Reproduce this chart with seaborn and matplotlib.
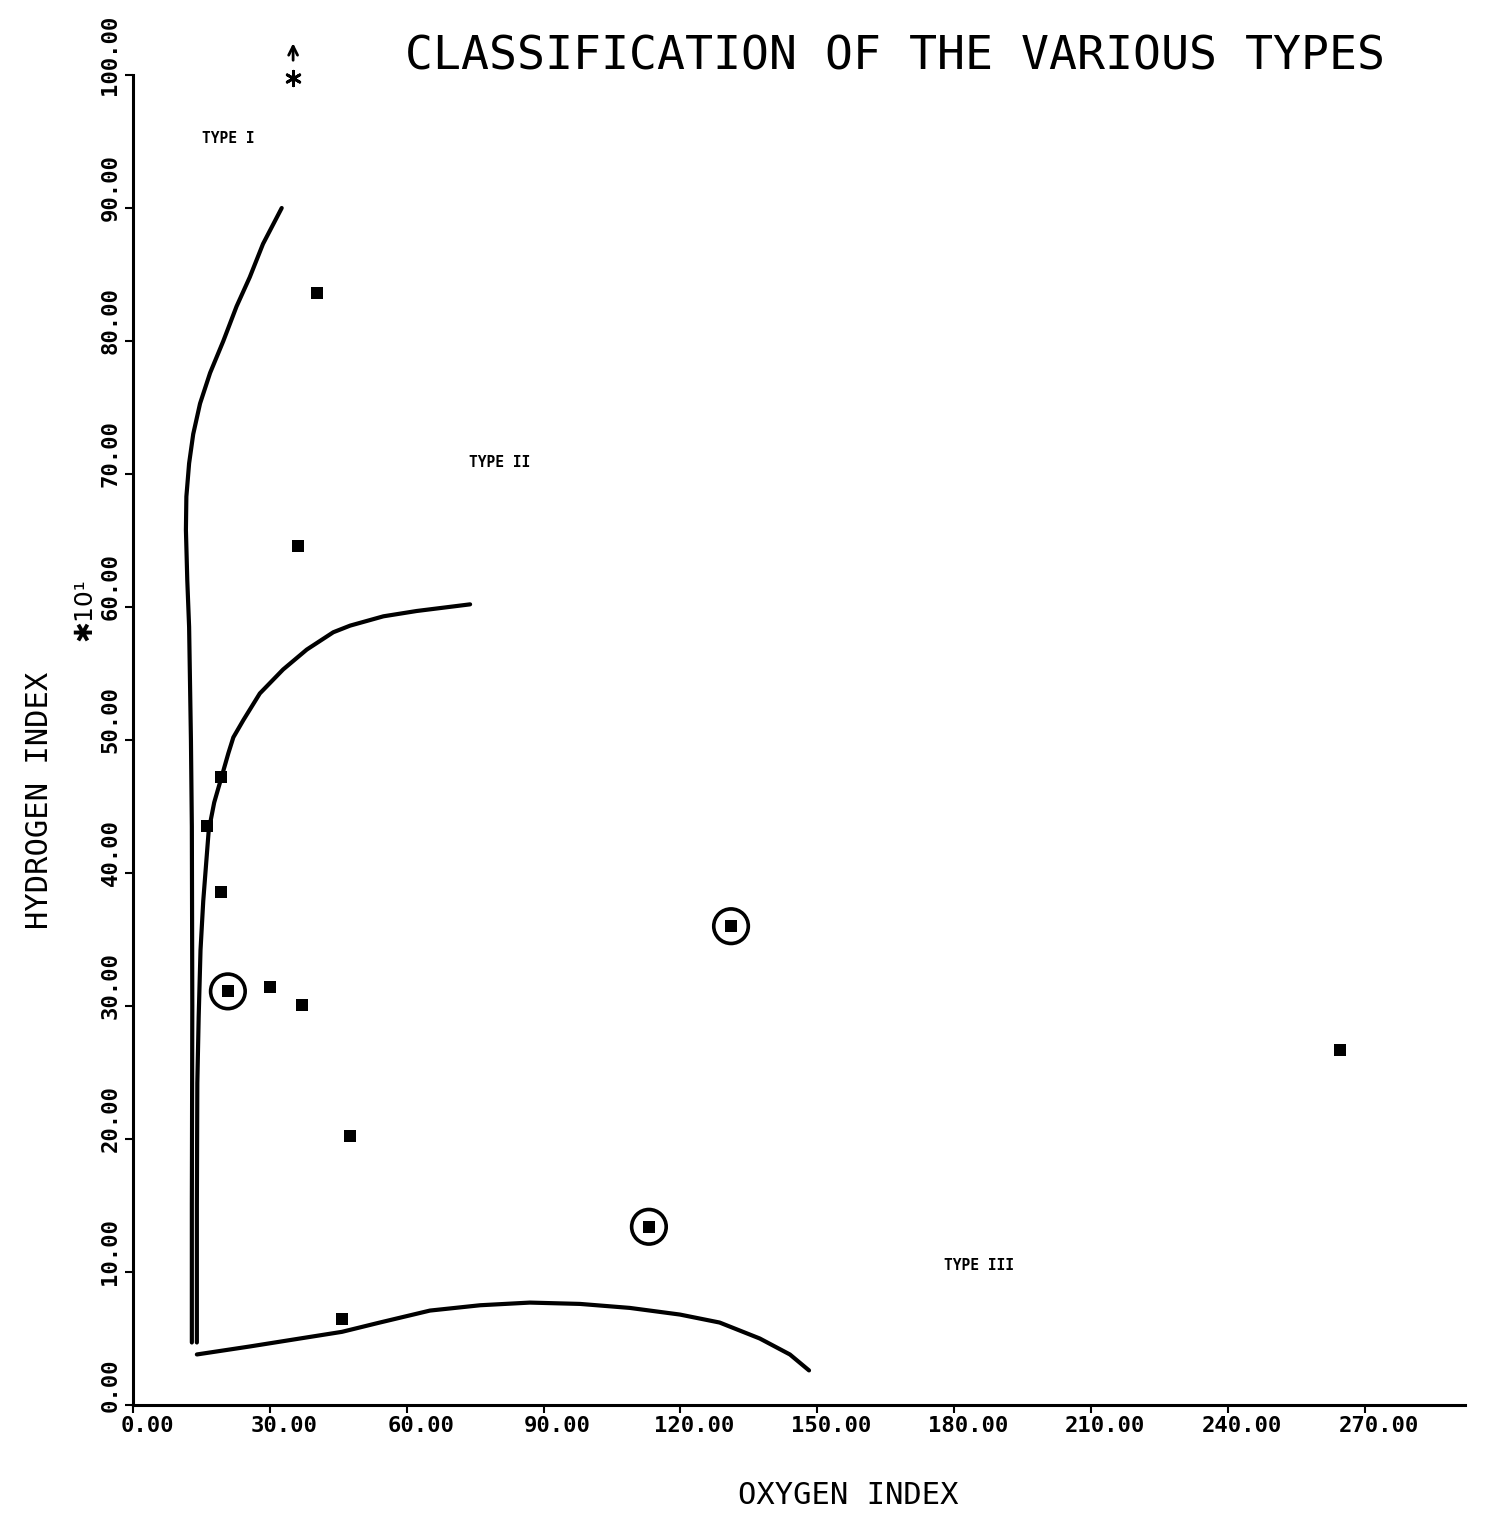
import matplotlib
matplotlib.use("Agg")
import matplotlib.pyplot as plt
import matplotlib.transforms as mtransforms
import seaborn as sns
import pandas as pd

# ---------------- data ----------------
# boundary curve of Type I (left, tall)
type1_oi = [12.9, 12.9, 13.0, 12.9, 12.7, 12.3, 11.9, 11.6, 11.7, 12.3, 13.2,
            14.7, 16.9, 19.8, 22.7, 25.6, 28.5, 32.6]
type1_hi = [4.7, 15.0, 30.0, 43.5, 50.0, 58.5, 62.0, 65.8, 68.3, 70.8, 73.0,
            75.3, 77.6, 80.0, 82.6, 84.8, 87.3, 90.0]

# boundary curve of Type II
type2_oi = [14.0, 14.0, 14.1, 14.4, 14.8, 15.4, 16.1, 16.6, 17.8, 19.4, 20.9,
            22.0, 24.2, 27.8, 32.9, 38.1, 43.9, 47.6, 54.9, 62.2, 73.9]
type2_hi = [4.7, 15.0, 24.2, 29.2, 34.2, 37.9, 41.0, 43.2, 45.3, 47.2, 49.0,
            50.2, 51.5, 53.5, 55.3, 56.8, 58.1, 58.6, 59.3, 59.7, 60.2]

# boundary curve of Type III (bottom)
type3_oi = [14.0, 25.6, 36.6, 45.8, 54.1, 65.1, 76.1, 87.0, 98.0, 108.9,
            119.9, 128.6, 137.4, 144.0, 148.2]
type3_hi = [3.8, 4.4, 5.0, 5.5, 6.2, 7.1, 7.5, 7.7, 7.6, 7.3,
            6.8, 6.2, 5.0, 3.8, 2.6]

# samples
sample_oi = [40.3, 36.2, 19.3, 16.2, 19.3, 20.8, 30.0, 37.0, 47.6, 45.8, 113.1, 131.1, 264.5]
sample_hi = [83.6, 64.6, 47.2, 43.5, 38.6, 31.1, 31.4, 30.1, 20.2, 6.5, 13.4, 36.0, 26.7]
sample_circled = [False, False, False, False, False, True, False, False, False, False, True, True, False]

# off-scale sample (shown at top with arrow)
offscale_oi = [35.1]
offscale_hi = [99.8]

x_ticks = [0, 30, 60, 90, 120, 150, 180, 210, 240, 270]
y_ticks = [0, 10, 20, 30, 40, 50, 60, 70, 80, 90, 100]

type_labels = ["TYPE I", "TYPE II", "TYPE III"]
type_label_oi = [20.8, 80.4, 185.4]
type_label_hi = [95.2, 70.9, 10.5]

# ---------------- style ----------------
sns.set_style("white")
plt.rcParams["font.family"] = ["DejaVu Sans Mono", "DejaVu Sans"]
plt.rcParams["text.color"] = "black"

fig = plt.figure(figsize=(14.89, 15.20), dpi=100)
ax = fig.add_axes([133 / 1489, 1 - 1405 / 1520, (1465 - 133) / 1489, (1405 - 75) / 1520])

lw_curve = 3.0
for xs, ys in [(type1_oi, type1_hi), (type2_oi, type2_hi), (type3_oi, type3_hi)]:
    d = pd.DataFrame({"oi": xs, "hi": ys})
    sns.lineplot(data=d, x="oi", y="hi", sort=False, color="black",
                 linewidth=lw_curve, ax=ax, legend=False, estimator=None)
for line in ax.get_lines():
    line.set_solid_joinstyle("round")
    line.set_solid_capstyle("round")

pts = pd.DataFrame({"oi": sample_oi, "hi": sample_hi, "circ": sample_circled})
sns.scatterplot(data=pts, x="oi", y="hi", marker="s", s=75, color="black",
                linewidth=0, ax=ax, legend=False, zorder=5)
sns.scatterplot(data=pts[pts["circ"]], x="oi", y="hi", marker="o", s=620,
                facecolor="none", edgecolor="black", linewidth=2.6, ax=ax,
                legend=False, zorder=5)

off = pd.DataFrame({"oi": offscale_oi, "hi": offscale_hi})
sns.scatterplot(data=off, x="oi", y="hi", marker=(6, 2, 0), s=110, color="black",
                edgecolor="black", linewidth=2.0, ax=ax, legend=False, zorder=6,
                clip_on=False)
ax.annotate("", xy=(offscale_oi[0], 102.6), xytext=(offscale_oi[0], 100.9),
            arrowprops=dict(arrowstyle="->", color="black", lw=2.0,
                            mutation_scale=16),
            annotation_clip=False)

for t, x, y in zip(type_labels, type_label_oi, type_label_hi):
    ax.text(x, y, t, fontsize=10.5, fontweight="bold", ha="center", va="center",
            color="black")

ax.set_xlim(0, 292)
ax.set_ylim(0, 100)
ax.set_xticks(x_ticks)
ax.set_yticks(y_ticks)
ax.set_xticklabels([f"{v:.2f}" for v in x_ticks])
ax.set_yticklabels([f"{v:.2f}" for v in y_ticks])

for s in ["top", "right"]:
    ax.spines[s].set_visible(False)
for s in ["left", "bottom"]:
    ax.spines[s].set_color("black")
    ax.spines[s].set_linewidth(2.2)

ax.tick_params(axis="both", direction="out", length=6, width=1.5, colors="black",
               bottom=True, left=True)
ax.tick_params(axis="x", labelsize=16, pad=2)
ax.tick_params(axis="y", labelsize=16, pad=3)

dx = mtransforms.ScaledTranslation(0.14, 0, fig.dpi_scale_trans)
for lab in ax.get_xticklabels():
    lab.set_fontweight("bold")
    lab.set_transform(lab.get_transform() + dx)
dy = mtransforms.ScaledTranslation(0, 0.20, fig.dpi_scale_trans)
for lab in ax.get_yticklabels():
    lab.set_fontweight("bold")
    lab.set_rotation(90)
    lab.set_va("center")
    lab.set_ha("right")
    lab.set_transform(lab.get_transform() + dy)

ax.set_xlabel("")
ax.set_ylabel("")
fig.text(848 / 1489, 1 - 1495 / 1520, "OXYGEN INDEX", fontsize=22,
         ha="center", va="center", color="black")
fig.text(40 / 1489, 1 - 800 / 1520, "HYDROGEN INDEX", fontsize=22,
         rotation=90, ha="center", va="center", color="black")
fig.text(84 / 1489, 1 - 610 / 1520, "\u273110\u00b9", fontsize=18,
         rotation=90, ha="center", va="center", color="black",
         family=["DejaVu Sans", "DejaVu Sans Mono"])
fig.text(895 / 1489, 1 - 57 / 1520, "CLASSIFICATION OF THE VARIOUS TYPES",
         fontsize=33.5, ha="center", va="center", color="black")

fig.savefig("out.png", dpi=100, facecolor="white")
